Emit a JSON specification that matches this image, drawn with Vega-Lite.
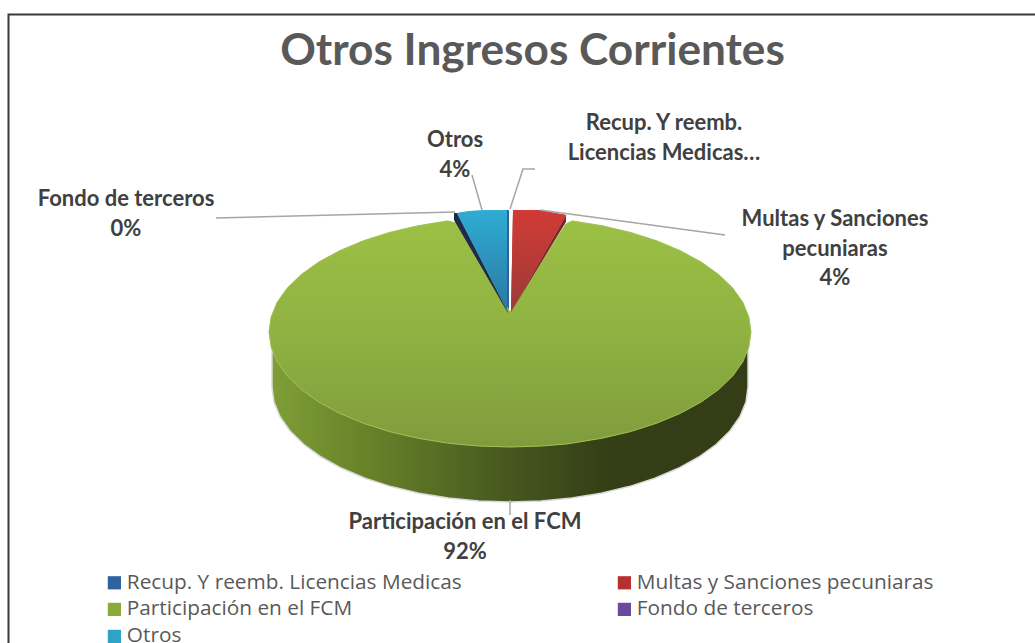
{
"$schema":"https://vega.github.io/schema/vega-lite/v6.json",
"autosize":"none","padding":0,"width":1035,"height":643,
"background":"white",
"view":{"stroke":null},
"title":{"text":"Otros Ingresos Corrientes","offset":-74,"dx":15,"fontSize":44.2,"font":"Lato","fontWeight":"bold","color":"#595959"},
"datasets":{
"formas":[
{"cat":"Participación en el FCM","part":"lado","x":-238,"y":0,"y2":-55},
{"cat":"Participación en el FCM","part":"lado","x":-236,"y":0,"y2":-70},
{"cat":"Participación en el FCM","part":"lado","x":-229.9,"y":0,"y2":-84.8},
{"cat":"Participación en el FCM","part":"lado","x":-219.9,"y":0,"y2":-99},
{"cat":"Participación en el FCM","part":"lado","x":-206.1,"y":0,"y2":-112.5},
{"cat":"Participación en el FCM","part":"lado","x":-188.8,"y":0,"y2":-125},
{"cat":"Participación en el FCM","part":"lado","x":-168.3,"y":0,"y2":-136.3},
{"cat":"Participación en el FCM","part":"lado","x":-144.9,"y":0,"y2":-146.2},
{"cat":"Participación en el FCM","part":"lado","x":-119,"y":0,"y2":-154.6},
{"cat":"Participación en el FCM","part":"lado","x":-91.1,"y":0,"y2":-161.2},
{"cat":"Participación en el FCM","part":"lado","x":-61.6,"y":0,"y2":-166.1},
{"cat":"Participación en el FCM","part":"lado","x":-31.1,"y":0,"y2":-169},
{"cat":"Participación en el FCM","part":"lado","x":0,"y":0,"y2":-170},
{"cat":"Participación en el FCM","part":"lado","x":31.1,"y":0,"y2":-169},
{"cat":"Participación en el FCM","part":"lado","x":61.6,"y":0,"y2":-166.1},
{"cat":"Participación en el FCM","part":"lado","x":91.1,"y":0,"y2":-161.2},
{"cat":"Participación en el FCM","part":"lado","x":119,"y":0,"y2":-154.6},
{"cat":"Participación en el FCM","part":"lado","x":144.9,"y":0,"y2":-146.2},
{"cat":"Participación en el FCM","part":"lado","x":168.3,"y":0,"y2":-136.3},
{"cat":"Participación en el FCM","part":"lado","x":188.8,"y":0,"y2":-125},
{"cat":"Participación en el FCM","part":"lado","x":206.1,"y":0,"y2":-112.5},
{"cat":"Participación en el FCM","part":"lado","x":219.9,"y":0,"y2":-99},
{"cat":"Participación en el FCM","part":"lado","x":229.9,"y":0,"y2":-84.8},
{"cat":"Participación en el FCM","part":"lado","x":236,"y":0,"y2":-70},
{"cat":"Participación en el FCM","part":"lado","x":238,"y":0,"y2":-55},
{"cat":"Participación en el FCM","part":"cara","x":-241,"y":0,"y2":0},
{"cat":"Participación en el FCM","part":"cara","x":-238.9,"y":15,"y2":-15},
{"cat":"Participación en el FCM","part":"cara","x":-232.8,"y":29.8,"y2":-29.8},
{"cat":"Participación en el FCM","part":"cara","x":-222.7,"y":44,"y2":-44},
{"cat":"Participación en el FCM","part":"cara","x":-208.7,"y":57.5,"y2":-57.5},
{"cat":"Participación en el FCM","part":"cara","x":-191.2,"y":70,"y2":-70},
{"cat":"Participación en el FCM","part":"cara","x":-170.4,"y":81.3,"y2":-81.3},
{"cat":"Participación en el FCM","part":"cara","x":-146.7,"y":91.2,"y2":-91.2},
{"cat":"Participación en el FCM","part":"cara","x":-120.5,"y":99.6,"y2":-99.6},
{"cat":"Participación en el FCM","part":"cara","x":-92.2,"y":106.2,"y2":-106.2},
{"cat":"Participación en el FCM","part":"cara","x":-62.4,"y":111.1,"y2":-111.1},
{"cat":"Participación en el FCM","part":"cara","x":-54,"y":109,"y2":-112},
{"cat":"Participación en el FCM","part":"cara","x":-31.5,"y":71.9,"y2":-114},
{"cat":"Participación en el FCM","part":"cara","x":0,"y":20,"y2":-115},
{"cat":"Participación en el FCM","part":"cara","x":31.5,"y":69.5,"y2":-114},
{"cat":"Participación en el FCM","part":"cara","x":56,"y":108,"y2":-112},
{"cat":"Participación en el FCM","part":"cara","x":62.4,"y":111.1,"y2":-111.1},
{"cat":"Participación en el FCM","part":"cara","x":92.2,"y":106.2,"y2":-106.2},
{"cat":"Participación en el FCM","part":"cara","x":120.5,"y":99.6,"y2":-99.6},
{"cat":"Participación en el FCM","part":"cara","x":146.7,"y":91.2,"y2":-91.2},
{"cat":"Participación en el FCM","part":"cara","x":170.4,"y":81.3,"y2":-81.3},
{"cat":"Participación en el FCM","part":"cara","x":191.2,"y":70,"y2":-70},
{"cat":"Participación en el FCM","part":"cara","x":208.7,"y":57.5,"y2":-57.5},
{"cat":"Participación en el FCM","part":"cara","x":222.7,"y":44,"y2":-44},
{"cat":"Participación en el FCM","part":"cara","x":232.8,"y":29.8,"y2":-29.8},
{"cat":"Participación en el FCM","part":"cara","x":238.9,"y":15,"y2":-15},
{"cat":"Participación en el FCM","part":"cara","x":241,"y":0,"y2":0},
{"cat":"Otros","part":"lado","x":-56,"y":119,"y2":112},
{"cat":"Otros","part":"lado","x":-53,"y":119,"y2":106.8},
{"cat":"Otros","part":"lado","x":-2,"y":20,"y2":19},
{"cat":"Otros","part":"cara","x":-53,"y":119,"y2":119},
{"cat":"Otros","part":"cara","x":-40,"y":121,"y2":93.8},
{"cat":"Otros","part":"cara","x":-20,"y":122,"y2":55},
{"cat":"Otros","part":"cara","x":-3,"y":122,"y2":22},
{"cat":"Recup. Y reemb. Licencias Medicas","part":"cara","x":-3,"y":122,"y2":21},
{"cat":"Recup. Y reemb. Licencias Medicas","part":"cara","x":-1,"y":122,"y2":20},
{"cat":"Multas y Sanciones pecuniaras","part":"lado","x":1,"y":20,"y2":20},
{"cat":"Multas y Sanciones pecuniaras","part":"lado","x":56,"y":117,"y2":110},
{"cat":"Multas y Sanciones pecuniaras","part":"cara","x":1,"y":20,"y2":20},
{"cat":"Multas y Sanciones pecuniaras","part":"cara","x":3,"y":122,"y2":23.5},
{"cat":"Multas y Sanciones pecuniaras","part":"cara","x":30,"y":122,"y2":71},
{"cat":"Multas y Sanciones pecuniaras","part":"cara","x":45,"y":119,"y2":97.8},
{"cat":"Multas y Sanciones pecuniaras","part":"cara","x":56,"y":117,"y2":117}
],
"guias":[
{"g":"Fondo","o":1,"x":-294,"y":114},
{"g":"Fondo","o":2,"x":-55,"y":120},
{"g":"Otros","o":1,"x":-38,"y":157},
{"g":"Otros","o":2,"x":-28,"y":122},
{"g":"Recup","o":1,"x":25,"y":163},
{"g":"Recup","o":2,"x":13,"y":163},
{"g":"Recup","o":3,"x":0,"y":123},
{"g":"Multas","o":1,"x":30,"y":122},
{"g":"Multas","o":2,"x":215,"y":97},
{"g":"FCM","o":1,"x":0,"y":-168},
{"g":"FCM","o":2,"x":0,"y":-183}
],
"marco":[
{"o":1,"x":-501.5,"y":-311},
{"o":2,"x":-501.5,"y":317.5},
{"o":3,"x":525,"y":317.5}
],
"etiquetas":[
{"t":"Fondo de terceros\n0%","x":-384,"y":126},
{"t":"Otros\n4%","x":-55,"y":185},
{"t":"Recup. Y reemb.\nLicencias Medicas…","x":154,"y":202},
{"t":"Multas y Sanciones\npecuniaras\n4%","x":325,"y":106},
{"t":"Participación en el FCM\n92%","x":-45,"y":-197}
]
},
"encoding":{
"x":{"field":"x","type":"quantitative","axis":null,"scale":{"domain":[-510,525],"nice":false,"zero":false}},
"y":{"field":"y","type":"quantitative","axis":null,"scale":{"domain":[-311,332],"nice":false,"zero":false}}
},
"layer":[
{"data":{"name":"formas"},"transform":[{"filter":"datum.part==='cara'"}],
 "mark":{"type":"area","opacity":1},
 "encoding":{"y2":{"field":"y2"},
  "color":{"field":"cat","type":"nominal","sort":null,
   "scale":{"domain":["Recup. Y reemb. Licencias Medicas","Multas y Sanciones pecuniaras","Participación en el FCM","Fondo de terceros","Otros"],"range":["#2f62a3","#b5302f","#8aab3a","#6a4a9e","#2ea3c6"]},
   "legend":{"orient":"none","legendX":104,"legendY":572,"columns":2,"direction":"horizontal","title":null,"symbolType":"square","symbolSize":175,"symbolOpacity":1,"symbolStrokeWidth":0,"labelFont":"Open Sans","labelFontSize":20.8,"labelColor":"#595959","labelLimit":500,"labelOffset":2,"columnPadding":152,"rowPadding":5}}}},
{"data":{"name":"formas"},"transform":[{"filter":"datum.part==='lado' && datum.cat==='Participación en el FCM'"}],
 "mark":{"type":"area","stroke":"#d8d8d8","strokeWidth":1.5,"fill":{"x1":0,"y1":0,"x2":1,"y2":0,"gradient":"linear","stops":[{"offset":0,"color":"#7f9e36"},{"offset":0.15,"color":"#6c8a2d"},{"offset":0.3,"color":"#5c7426"},{"offset":0.5,"color":"#46571f"},{"offset":0.7,"color":"#353f16"},{"offset":1,"color":"#343d16"}]}},
 "encoding":{"y2":{"field":"y2"}}},
{"data":{"name":"formas"},"transform":[{"filter":"datum.part==='cara' && datum.cat==='Participación en el FCM'"}],
 "mark":{"type":"area","stroke":"#a3c452","strokeWidth":1,"fill":{"x1":0,"y1":0,"x2":0,"y2":1,"gradient":"linear","stops":[{"offset":0,"color":"#9cc045"},{"offset":0.5,"color":"#8fb142"},{"offset":1,"color":"#7f9c3d"}]}},
 "encoding":{"y2":{"field":"y2"}}},
{"data":{"name":"formas"},"transform":[{"filter":"datum.part==='lado' && datum.cat==='Otros'"}],
 "mark":{"type":"area","fill":"#1f2a4d"},
 "encoding":{"y2":{"field":"y2"}}},
{"data":{"name":"formas"},"transform":[{"filter":"datum.part==='lado' && datum.cat==='Multas y Sanciones pecuniaras'"}],
 "mark":{"type":"area","fill":"#7d2a28"},
 "encoding":{"y2":{"field":"y2"}}},
{"data":{"name":"formas"},"transform":[{"filter":"datum.part==='cara' && datum.cat==='Otros'"}],
 "mark":{"type":"area","fill":{"x1":0,"y1":0,"x2":0,"y2":1,"gradient":"linear","stops":[{"offset":0,"color":"#2fadd4"},{"offset":1,"color":"#2a79a3"}]}},
 "encoding":{"y2":{"field":"y2"}}},
{"data":{"name":"formas"},"transform":[{"filter":"datum.part==='cara' && datum.cat==='Multas y Sanciones pecuniaras'"}],
 "mark":{"type":"area","fill":{"x1":0,"y1":0,"x2":0,"y2":1,"gradient":"linear","stops":[{"offset":0,"color":"#d23a36"},{"offset":1,"color":"#9c3a38"}]}},
 "encoding":{"y2":{"field":"y2"}}},
{"data":{"name":"guias"},"mark":{"type":"line","color":"#a6a6a6","strokeWidth":1.5},
 "encoding":{"detail":{"field":"g"},"order":{"field":"o","type":"ordinal"}}},
{"data":{"name":"marco"},"mark":{"type":"line","color":"#3a3a3a","strokeWidth":2,"clip":false},
 "encoding":{"order":{"field":"o","type":"ordinal"}}},
{"data":{"name":"etiquetas"},"mark":{"type":"text","font":"Lato","fontWeight":"bold","fontSize":22,"color":"#404040","align":"center","baseline":"alphabetic","lineBreak":"\n","lineHeight":29.5},
 "encoding":{"text":{"field":"t"}}}
]
}
